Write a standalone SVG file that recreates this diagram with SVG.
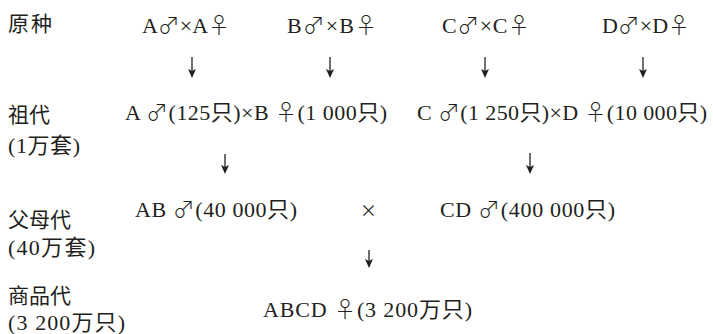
<svg xmlns="http://www.w3.org/2000/svg" width="713" height="334" viewBox="0 0 713 334">
<style>
.t{font-family:"Liberation Serif","Noto Sans CJK SC",serif;font-size:22px;fill:#231f20}
.c{font-family:"Noto Sans CJK SC","Liberation Serif",sans-serif;font-size:21px;fill:#231f20}
.s{font-family:"Noto Sans CJK SC",sans-serif;font-weight:300}
.a{stroke:#231f20;stroke-width:1.3;fill:none}
</style>
<g id="labels">
<text class="c" x="8" y="31" textLength="44" lengthAdjust="spacing">原种</text>
<text class="c" x="8" y="122">祖代</text>
<text class="t" x="8" y="153" textLength="72" lengthAdjust="spacing">(1万套)</text>
<text class="c" x="8" y="227">父母代</text>
<text class="t" x="8" y="255" textLength="87" lengthAdjust="spacing">(40万套)</text>
<text class="c" x="8" y="303">商品代</text>
<text class="t" x="8" y="330" textLength="117" lengthAdjust="spacing">(3 200万只)</text>
</g>
<g id="row1">
<text class="t" x="142" y="33" textLength="88" lengthAdjust="spacing">A<tspan class="s">♂</tspan>×A<tspan class="s">♀</tspan></text>
<text class="t" x="287" y="33" textLength="90" lengthAdjust="spacing">B<tspan class="s">♂</tspan>×B<tspan class="s">♀</tspan></text>
<text class="t" x="442" y="33" textLength="88" lengthAdjust="spacing">C<tspan class="s">♂</tspan>×C<tspan class="s">♀</tspan></text>
<text class="t" x="602" y="33" textLength="88" lengthAdjust="spacing">D<tspan class="s">♂</tspan>×D<tspan class="s">♀</tspan></text>
</g>
<g id="row2">
<text class="t" x="125" y="120" textLength="262" lengthAdjust="spacing">A <tspan class="s">♂</tspan>(125只)×B <tspan class="s">♀</tspan>(1 000只)</text>
<text class="t" x="417" y="120" textLength="290" lengthAdjust="spacing">C <tspan class="s">♂</tspan>(1 250只)×D <tspan class="s">♀</tspan>(10 000只)</text>
</g>
<g id="row3">
<text class="t" x="135" y="217" textLength="162" lengthAdjust="spacing">AB <tspan class="s">♂</tspan>(40 000只)</text>
<text class="c" x="360" y="217" style="font-size:17px">×</text>
<text class="t" x="440" y="217" textLength="175" lengthAdjust="spacing">CD <tspan class="s">♂</tspan>(400 000只)</text>
</g>
<g id="row4">
<text class="t" x="263" y="317" textLength="209" lengthAdjust="spacing">ABCD <tspan class="s">♀</tspan>(3 200万只)</text>
</g>
<g id="connectors">
<line class="a" x1="192" y1="57" x2="192" y2="72"/>
<path d="M188,69 L192,78 L196,69 L192,71 Z" fill="#231f20"/>
<line class="a" x1="330" y1="57" x2="330" y2="72"/>
<path d="M326,69 L330,78 L334,69 L330,71 Z" fill="#231f20"/>
<line class="a" x1="485" y1="57" x2="485" y2="72"/>
<path d="M481,69 L485,78 L489,69 L485,71 Z" fill="#231f20"/>
<line class="a" x1="643" y1="57" x2="643" y2="72"/>
<path d="M639,69 L643,78 L647,69 L643,71 Z" fill="#231f20"/>
<line class="a" x1="225" y1="154" x2="225" y2="168"/>
<path d="M221,165 L225,174 L229,165 L225,167 Z" fill="#231f20"/>
<line class="a" x1="530" y1="153" x2="530" y2="168"/>
<path d="M526,165 L530,174 L534,165 L530,167 Z" fill="#231f20"/>
<line class="a" x1="369" y1="250" x2="369" y2="262"/>
<path d="M365,259 L369,268 L373,259 L369,261 Z" fill="#231f20"/>
</g>
</svg>
